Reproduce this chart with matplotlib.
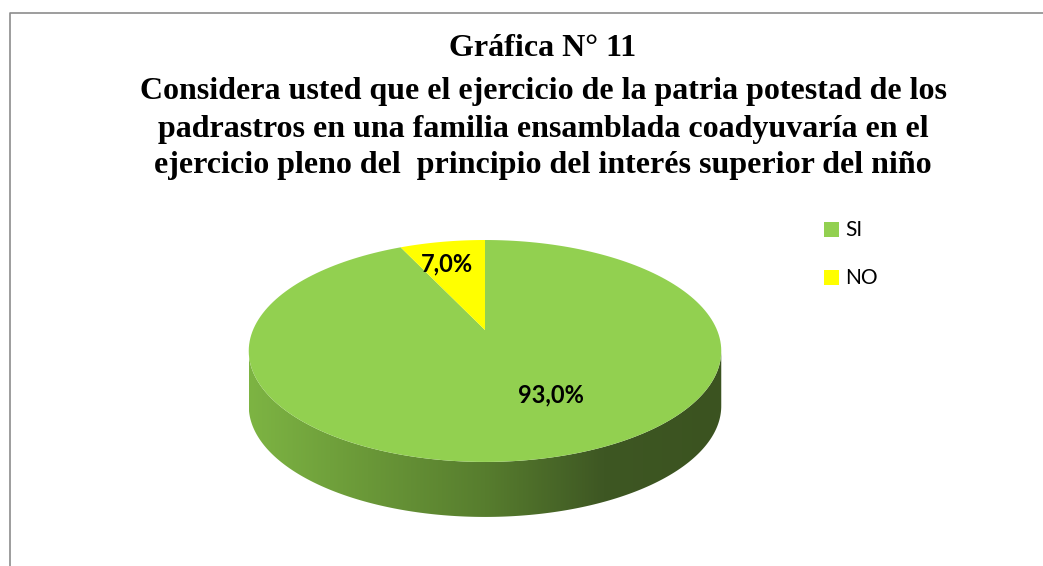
import numpy as np
import matplotlib.pyplot as plt
from matplotlib.patches import Polygon, Rectangle
from matplotlib.colors import LinearSegmentedColormap

categorias = ['SI', 'NO']
porcentajes = [93.0, 7.0]
colores = ['#92d050', '#ffff00']
etiquetas = ['93,0%', '7,0%']

titulo = ['Gráfica N° 11',
          'Considera usted que el ejercicio de la patria potestad de los',
          'padrastros en una familia ensamblada coadyuvaría en el',
          'ejercicio pleno del  principio del interés superior del niño']

# geometria del pastel (pixeles), con perspectiva simple
cx, cy = 485, 330
A, B, k = 232, 107, 0.189
prof = 55


def proyecta(theta, r=1.0):
    # theta en grados, sentido horario desde las 12
    t = np.radians(theta)
    u = r * np.sin(t)
    v = r * np.cos(t)
    d = 1 + k * v
    return cx + A * u / d, cy - B * v / d


fig = plt.figure(figsize=(10.43, 5.66), dpi=100)
ax = fig.add_axes([0, 0, 1, 1])
ax.set_xlim(0, 1043)
ax.set_ylim(566, 0)
ax.axis('off')

# marco
ax.plot([10, 10, 1043], [566, 13, 13], color='#8c8c8c', lw=1.2)

# costado (lado frontal) con degradado
t_der = 90 + np.degrees(np.arcsin(k))
t_izq = 360 - t_der
ts = np.linspace(t_der, t_izq, 200)
xs, ys = proyecta(ts)
pts = np.column_stack([np.r_[xs, xs[::-1]], np.r_[ys, ys[::-1] + prof]])
lado = Polygon(pts, closed=True, facecolor='none', edgecolor='none')
ax.add_patch(lado)
cmap = LinearSegmentedColormap.from_list(
    'g', ['#7db443', '#6a9838', '#577d2e', '#3e5723', '#3b5320'])
grad = np.linspace(1, 0, 256).reshape(1, -1)
im = ax.imshow(grad, cmap=cmap, extent=[xs.max(), xs.min(), ys.max() + prof, 300],
               aspect='auto', zorder=1)
im.set_clip_path(lado)
ax.set_xlim(0, 1043)
ax.set_ylim(566, 0)

# rebanadas superiores
total = sum(porcentajes)
inicio = 0
for p, c in zip(porcentajes, colores):
    fin = inicio + 360 * p / total
    tt = np.linspace(inicio, fin, 200)
    px, py = proyecta(tt)
    poly = np.column_stack([np.r_[cx, px], np.r_[cy, py]])
    ax.add_patch(Polygon(poly, closed=True, facecolor=c, edgecolor='none', zorder=2))
    inicio = fin

# etiquetas de datos
pos_etq = [(155, 0.60), (345, 0.72)]
for et, (th, r) in zip(etiquetas, pos_etq):
    x, y = proyecta(th, r)
    ax.text(x, y, et, ha='center', va='center', fontsize=17, fontweight='bold',
            family='Lato', color='black', zorder=3)

# leyenda
for i, (cat, c) in enumerate(zip(categorias, colores)):
    y0 = 222 + i * 48
    ax.add_patch(Rectangle((824, y0), 15, 15, facecolor=c, edgecolor='none'))
    ax.text(845, y0 + 8, cat, ha='left', va='center', fontsize=15,
            family='Lato', color='black')

# titulo
for yy, linea in zip([49, 92, 129, 165], titulo):
    ax.text(543, yy, linea, ha='center', va='center', fontsize=23,
            fontweight='bold', family='Liberation Serif')

fig.savefig('out.png', dpi=100)
